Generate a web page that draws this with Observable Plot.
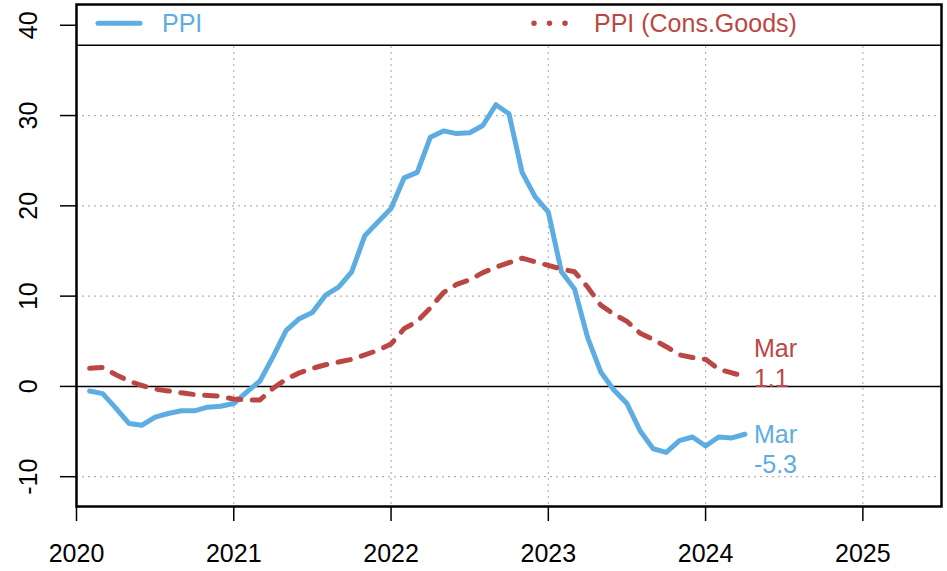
<!DOCTYPE html>
<html><head><meta charset="utf-8">
<script src="https://cdn.jsdelivr.net/npm/d3@7"></script>
<script src="https://cdn.jsdelivr.net/npm/@observablehq/plot@0.6"></script>
<style>html,body{margin:0;padding:0;background:#fff;}</style>
</head><body><div id="chart"></div>
<script>
// ---- data (monthly, Jan 2020 .. Mar 2024) ----
const seriesNames = ["PPI", "PPI (Cons.Goods)"];
const seriesColors = ["#5dade2", "#bb4744"];
const startYear = 2020;
const lastMonthLabel = "Mar";
const ppi = [
  -0.5, -0.8, -2.4, -4.1, -4.3, -3.4, -3.0, -2.7, -2.7, -2.3, -2.2, -1.9,
  -0.6, 0.6, 3.3, 6.2, 7.5, 8.2, 10.1, 11.0, 12.7, 16.7, 18.2, 19.7,
  23.1, 23.7, 27.6, 28.3, 28.0, 28.1, 28.9, 31.2, 30.2, 23.7, 21.0, 19.3,
  12.7, 10.8, 5.4, 1.6, -0.4, -1.9, -4.9, -6.9, -7.3, -6.0, -5.6, -6.6,
  -5.6, -5.7, -5.3
];
const ppiCons = [
  2.0, 2.1, 1.3, 0.6, 0.1, -0.3, -0.5, -0.7, -0.9, -1.0, -1.1, -1.4,
  -1.5, -1.5, -0.2, 0.8, 1.5, 2.0, 2.4, 2.7, 3.0, 3.5, 4.0, 4.7,
  6.4, 7.2, 8.7, 10.4, 11.3, 11.8, 12.6, 13.2, 13.7, 14.2, 13.8, 13.4,
  13.0, 12.7, 11.0, 9.0, 8.0, 7.2, 5.9, 5.2, 4.4, 3.5, 3.2, 3.0,
  1.9, 1.5, 1.1
];
const xTicks = [2020, 2021, 2022, 2023, 2024, 2025];
const yTicks = [-10, 0, 10, 20, 30, 40];
const gridXTicks = [2021, 2022, 2023, 2024, 2025];
const gridYTicks = [-10, 10, 20, 30];
const xDomain = [2020, 2025.5];
const yDomain = [-13.3, 42.3];
const legendBottom = 37.8;

const rows = ppi.map((v, i) => ({t: startYear + (i + 1) / 12, ppi: v, cons: ppiCons[i]}));
const last = rows[rows.length - 1];
const font = "Liberation Sans, Arial, Helvetica, sans-serif";
const fs = 25;

function legendMark(index, scales, values, dimensions) {
  const g = d3.create("svg:g").attr("font-family", font).attr("font-size", fs)
    .attr("text-anchor", "start");
  const left = dimensions.marginLeft;
  const cy = (scales.y(yDomain[1]) + scales.y(legendBottom)) / 2 - 1;
  g.append("line").attr("x1", left + 22).attr("x2", left + 64).attr("y1", cy).attr("y2", cy)
    .attr("stroke", seriesColors[0]).attr("stroke-width", 5).attr("stroke-linecap", "round");
  g.append("text").attr("x", left + 86).attr("y", cy + 9).attr("fill", seriesColors[0]).text(seriesNames[0]);
  g.append("line").attr("x1", left + 458).attr("x2", left + 491).attr("y1", cy).attr("y2", cy)
    .attr("stroke", seriesColors[1]).attr("stroke-width", 5.5).attr("stroke-linecap", "round")
    .attr("stroke-dasharray", "0,15.5");
  g.append("text").attr("x", left + 518).attr("y", cy + 9).attr("fill", seriesColors[1]).text(seriesNames[1]);
  return g.node();
}

const gridStyle = {stroke: "#b3b3b3", strokeOpacity: 1, strokeWidth: 1.2, strokeDasharray: "2,4"};

const chart = Plot.plot({
  width: 947,
  height: 571,
  marginLeft: 76,
  marginRight: 6,
  marginTop: 4,
  marginBottom: 65,
  style: {fontFamily: font, background: "white"},
  x: {domain: xDomain, label: null},
  y: {domain: yDomain, label: null},
  marks: [
    Plot.gridX(gridXTicks, gridStyle),
    Plot.gridY(gridYTicks, gridStyle),
    Plot.ruleY([0], {stroke: "black", strokeWidth: 1.5}),
    Plot.line(rows, {x: "t", y: "ppi", stroke: seriesColors[0], strokeWidth: 5,
      strokeLinejoin: "round", strokeLinecap: "round"}),
    Plot.line(rows, {x: "t", y: "cons", stroke: seriesColors[1], strokeWidth: 5,
      strokeDasharray: "12.5,11.5", strokeLinejoin: "round", strokeLinecap: "round"}),
    Plot.rect([0], {x1: xDomain[0], x2: xDomain[1], y1: legendBottom, y2: yDomain[1], fill: "white"}),
    Plot.ruleY([legendBottom], {stroke: "black", strokeWidth: 1.5}),
    Plot.frame({stroke: "black", strokeWidth: 2.5}),
    Plot.axisX(xTicks, {tickSize: 15, tickPadding: 23, fontSize: fs, strokeWidth: 1.5,
      tickFormat: d => String(d), label: null, fill: "black"}),
    Plot.axisY(yTicks, {tickSize: 16, strokeWidth: 1.5, tickFormat: () => "", label: null}),
    Plot.axisY(yTicks, {tickSize: 0, tickPadding: 48, fontSize: fs,
      rotate: -90, textAnchor: "middle", tickFormat: d => String(d), label: null, fill: "black"}),
    Plot.text([last], {x: "t", y: "cons", text: d => `${lastMonthLabel}\n${d.cons.toFixed(1)}`,
      fill: seriesColors[1], fontSize: fs, textAnchor: "start", lineHeight: 1.2, dx: 9, dy: -14}),
    Plot.text([last], {x: "t", y: "ppi", text: d => `${lastMonthLabel}\n${d.ppi.toFixed(1)}`,
      fill: seriesColors[0], fontSize: fs, textAnchor: "start", lineHeight: 1.2, dx: 9, dy: 14}),
    legendMark
  ]
});
document.getElementById("chart").appendChild(chart);
</script>
</body></html>
